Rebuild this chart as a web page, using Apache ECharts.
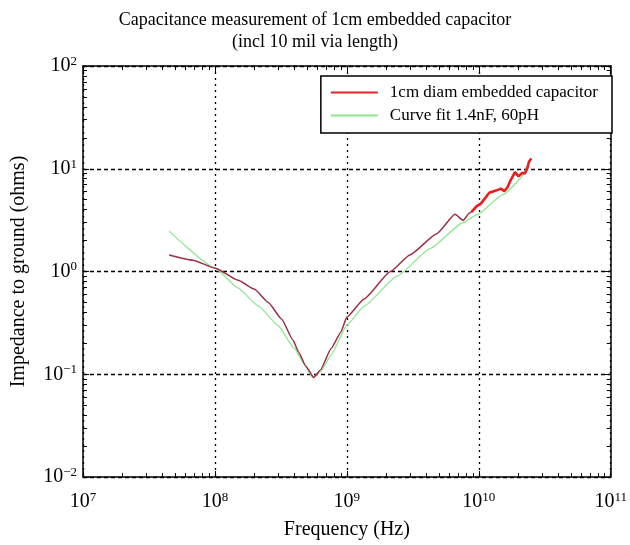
<!DOCTYPE html>
<html>
<head>
<meta charset="utf-8">
<script src="https://cdn.jsdelivr.net/npm/echarts@6/dist/echarts.min.js"></script>
<style>
  html, body { margin: 0; padding: 0; background: #fff; }
  #main { width: 630px; height: 545px; }
</style>
</head>
<body>
<div id="main"></div>
<script>
// measured curve (Hz, ohms)
var measFreq = [4.5e7, 6.8e7, 1.0e8, 1.5e8, 2.0e8, 2.54e8, 3.2e8, 3.9e8, 4.3e8, 4.9e8, 5.6e8, 6.3e8, 7.6e8, 9.0e8, 1.0e9, 1.35e9, 2.14e9, 3.0e9, 4.8e9, 6.6e9, 7.6e9, 8.5e9, 9.4e9];
var measZ = [1.45, 1.29, 1.08, 0.82, 0.67, 0.50, 0.345, 0.215, 0.165, 0.119, 0.093, 0.11, 0.178, 0.257, 0.36, 0.54, 1.0, 1.45, 2.33, 3.6, 3.15, 3.7, 4.1];
// noisy high-frequency tail of the measurement
var tailFreq = [8.8e9, 9.6e9, 1.04e10, 1.2e10, 1.35e10, 1.47e10, 1.56e10, 1.65e10, 1.75e10, 1.88e10, 2.0e10, 2.12e10, 2.24e10, 2.33e10, 2.4e10, 2.5e10];
var tailZ = [3.8, 4.3, 4.6, 5.83, 6.13, 6.41, 6.05, 6.6, 7.8, 9.26, 8.42, 9.06, 9.06, 10.1, 11.7, 12.6];
// curve fit 1.4nF, 60pH
var fitFreq = [4.5e7, 1.0e8, 1.5e8, 2.14e8, 3.0e8, 4.0e8, 4.8e8, 5.5e8, 6.3e8, 7.6e8, 1.0e9, 1.35e9, 2.4e9, 4.27e9, 7.6e9, 9.8e9, 1.52e10, 2.27e10];
var fitZ = [2.47, 1.08, 0.69, 0.46, 0.30, 0.178, 0.123, 0.093, 0.105, 0.154, 0.30, 0.46, 0.90, 1.67, 3.0, 3.6, 5.6, 9.3];

var seriesNames = ["1cm diam embedded capacitor", "Curve fit 1.4nF, 60pH"];

function pairs(xs, ys) {
  return xs.map(function (x, i) { return [x, ys[i]]; });
}

var font = "Liberation Serif";

function powLabel(v) {
  var e = Math.round(Math.log10(v));
  return "{b|10}{s|" + (e < 0 ? "\u2212" + (-e) : e) + "}";
}
var labelRich = {
  b: { fontFamily: font, fontSize: 20, color: "#000" },
  s: { fontFamily: font, fontSize: 13, color: "#000", verticalAlign: "top", padding: [0, 0, 9, 0] },
};

var chart = echarts.init(document.getElementById("main"));
var option = {
  animation: false,
  backgroundColor: "#fff",
  title: {
    text: "Capacitance measurement of 1cm embedded capacitor\n(incl 10 mil via length)",
    left: "center",
    top: 4,
    textStyle: { fontFamily: font, fontSize: 18, fontWeight: "normal", color: "#000", lineHeight: 22 },
  },
  legend: {
    data: [
      { name: seriesNames[0], itemStyle: { color: "#e4242c" } },
      { name: seriesNames[1], itemStyle: { color: "#8ee88e" } },
    ],
    icon: "rect",
    orient: "vertical",
    right: 18,
    top: 76,
    backgroundColor: "#fff",
    borderColor: "#000",
    borderWidth: 1.5,
    borderRadius: 0,
    padding: [8, 14, 9, 10],
    itemWidth: 47,
    itemHeight: 2,
    itemGap: 6,
    textStyle: { fontFamily: font, fontSize: 17, color: "#000", padding: [0, 0, 0, 7] },
  },
  grid: { left: 83, right: 14, top: 66, bottom: 61 },
  xAxis: [
    {
      type: "log",
      logBase: 10,
      min: 1e7,
      max: 1e11,
      name: "Frequency (Hz)",
      nameLocation: "middle",
      nameGap: 43,
      nameTextStyle: { fontFamily: font, fontSize: 20, color: "#000" },
      axisLine: { lineStyle: { color: "#000", width: 1.5 } },
      axisTick: { inside: true, length: 6, lineStyle: { color: "#000" } },
      minorTick: { show: true, splitNumber: 9, length: 4, lineStyle: { color: "#000" } },
      axisLabel: { margin: 14, formatter: powLabel, rich: labelRich },
      splitLine: { show: true, lineStyle: { color: "#000", width: 1.3, type: [2, 4] } },
    },
    {
      type: "log",
      logBase: 10,
      min: 1e7,
      max: 1e11,
      position: "top",
      axisLine: { lineStyle: { color: "#000", width: 1.5 } },
      axisTick: { inside: true, length: 6, lineStyle: { color: "#000" } },
      minorTick: { show: true, splitNumber: 9, length: 4, lineStyle: { color: "#000" } },
      axisLabel: { show: false },
      splitLine: { show: false },
    },
  ],
  yAxis: [
    {
      type: "log",
      logBase: 10,
      min: 1e-2,
      max: 1e2,
      name: "Impedance to ground (ohms)",
      nameLocation: "middle",
      nameGap: 54,
      nameTextStyle: { fontFamily: font, fontSize: 20, color: "#000" },
      axisLine: { show: true, lineStyle: { color: "#000", width: 1.5 } },
      axisTick: { show: true, inside: true, length: 6, lineStyle: { color: "#000" } },
      minorTick: { show: true, splitNumber: 9, length: 4, lineStyle: { color: "#000" } },
      axisLabel: { margin: 6, formatter: powLabel, rich: labelRich },
      splitLine: { show: true, lineStyle: { color: "#000", width: 1.3, type: [4, 3] } },
    },
    {
      type: "log",
      logBase: 10,
      min: 1e-2,
      max: 1e2,
      position: "right",
      axisLine: { show: true, lineStyle: { color: "#000", width: 1.5 } },
      axisTick: { show: true, inside: true, length: 6, lineStyle: { color: "#000" } },
      minorTick: { show: true, splitNumber: 9, length: 4, lineStyle: { color: "#000" } },
      axisLabel: { show: false },
      splitLine: { show: false },
    },
  ],
  series: [
    {
      name: seriesNames[1],
      type: "line",
      data: pairs(fitFreq, fitZ),
      smooth: 0.15,
      smoothMonotone: "x",
      symbol: "none",
      color: "#8ee88e",
      lineStyle: { color: "#8ee88e", width: 1.3 },
    },
    {
      name: seriesNames[0],
      type: "line",
      data: pairs(measFreq, measZ),
      smooth: 0.15,
      smoothMonotone: "x",
      symbol: "none",
      color: "#e4242c",
      lineStyle: { color: "#9a2f45", width: 1.5 },
    },
    {
      name: "tail",
      type: "line",
      data: pairs(tailFreq, tailZ),
      symbol: "none",
      lineStyle: { color: "#ee1c1c", width: 2.6 },
    },
  ],
};
chart.setOption(option);
</script>
</body>
</html>
